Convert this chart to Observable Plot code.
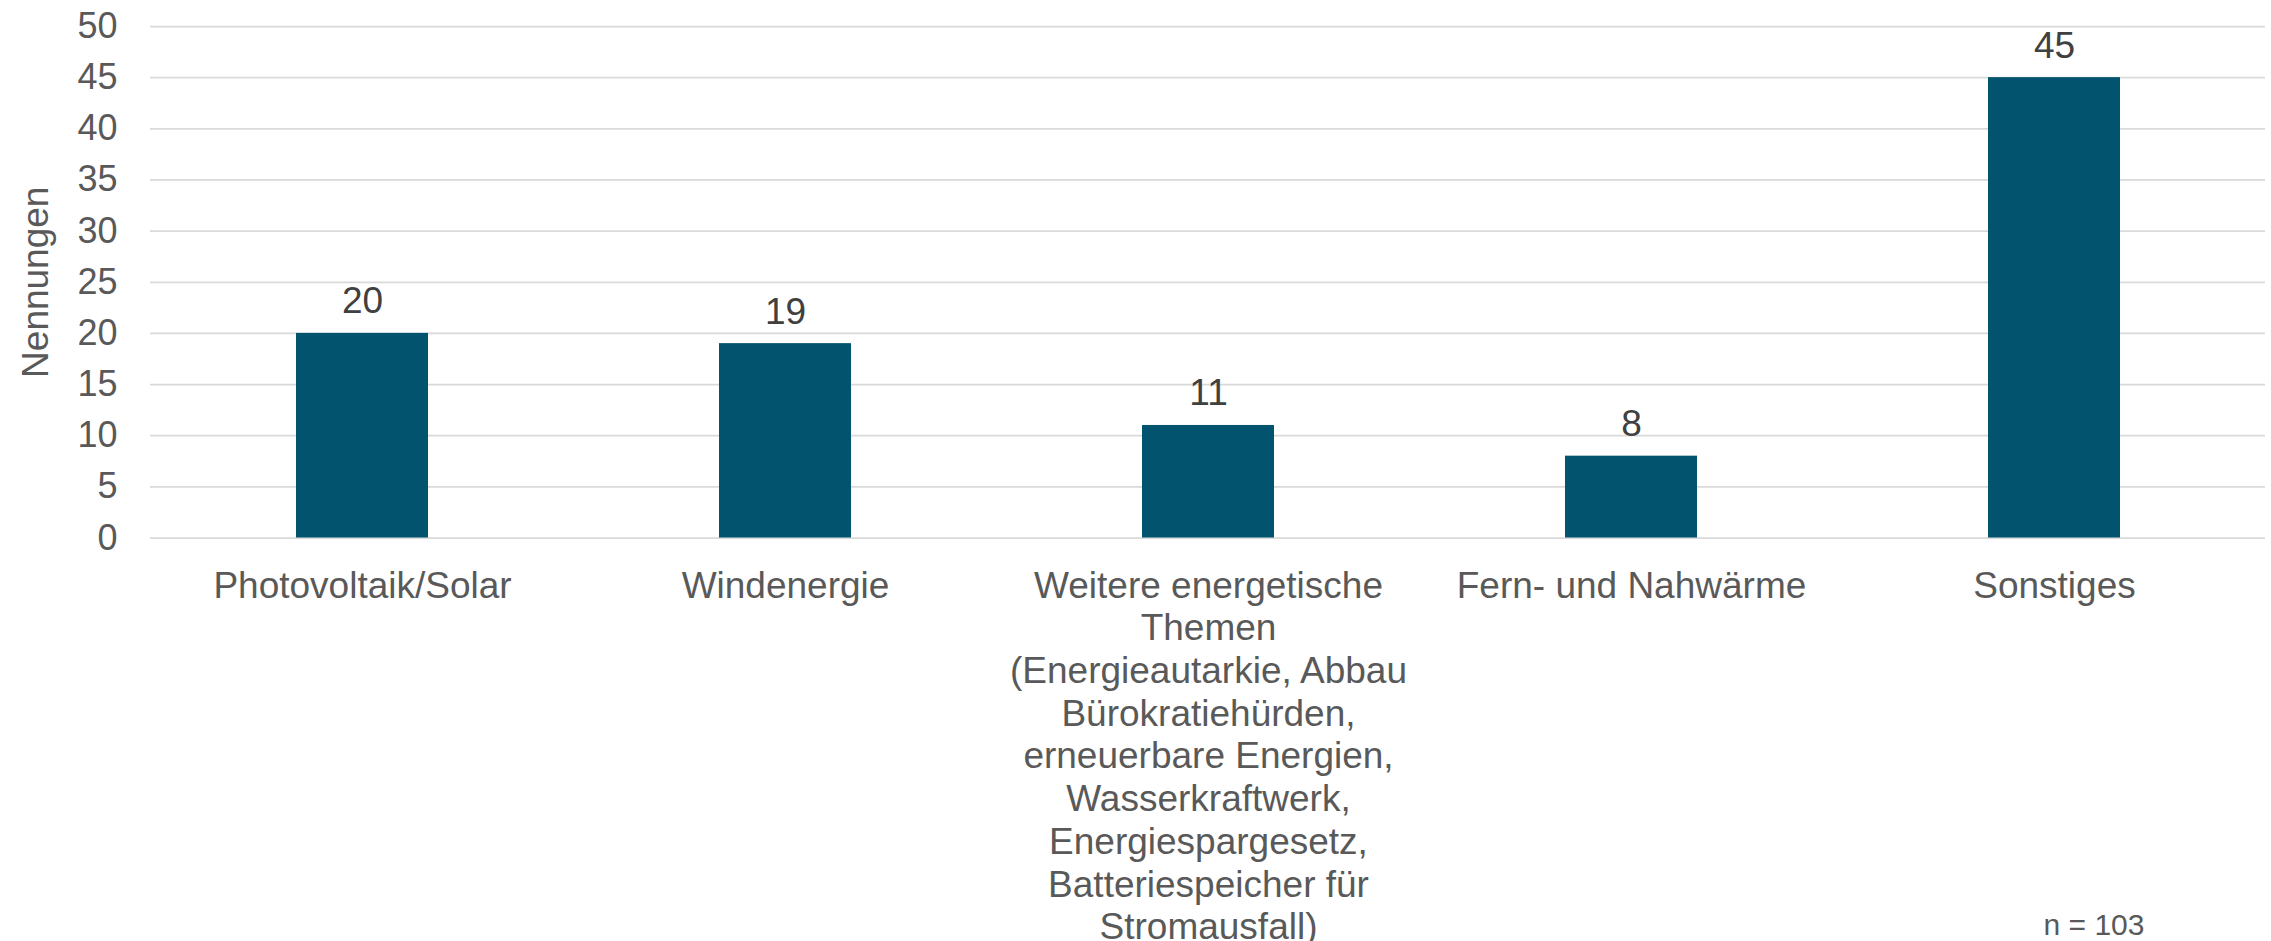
<!DOCTYPE html>
<html>
<head>
<meta charset="utf-8">
<script src="https://cdn.jsdelivr.net/npm/d3@7"></script>
<script src="https://cdn.jsdelivr.net/npm/@observablehq/plot@0.6"></script>
<style>
  html, body { margin: 0; padding: 0; background: #ffffff; }
  #chart svg { display: block; }
</style>
</head>
<body>
<div id="chart"></div>
<script>
const categories = [
  "Photovoltaik/Solar",
  "Windenergie",
  "Weitere energetische\nThemen\n(Energieautarkie, Abbau\nBürokratiehürden,\nerneuerbare Energien,\nWasserkraftwerk,\nEnergiespargesetz,\nBatteriespeicher für\nStromausfall)",
  "Fern- und Nahwärme",
  "Sonstiges"
];
const values = [20, 19, 11, 8, 45];
const yTicks = [0, 5, 10, 15, 20, 25, 30, 35, 40, 45, 50];
const yLabel = "Nennungen";
const note = "n = 103";

const data = categories.map((c, i) => ({cat: c, value: values[i]}));
const font = "Arial, 'Liberation Sans', sans-serif";

const chart = Plot.plot({
  width: 2271,
  height: 941,
  marginLeft: 150,
  marginRight: 6,
  marginTop: 26,
  marginBottom: 403.5,
  style: {fontFamily: font, background: "#ffffff", overflow: "visible"},
  x: {domain: categories, paddingInner: 0.688, paddingOuter: 0.344, axis: null},
  y: {domain: [0, 50], axis: null},
  marks: [
    Plot.ruleY(yTicks, {stroke: "#d9d9d9", strokeWidth: 1.75}),
    Plot.axisY(yTicks, {
      tickSize: 0, tickPadding: 33, fontSize: 36, fill: "#595959",
      label: null, tickFormat: d => String(d)
    }),
    Plot.barY(data, {x: "cat", y: "value", fill: "#02546e"}),
    Plot.text(data, {
      x: "cat", y: "value", text: d => String(d.value),
      dy: -20, lineAnchor: "bottom", fontSize: 37, fill: "#404040"
    }),
    Plot.text(data, {
      x: "cat", frameAnchor: "bottom", text: "cat",
      lineAnchor: "top", dy: 29.2, lineHeight: 1.155,
      fontSize: 37, fill: "#595959"
    }),
    Plot.text([yLabel], {
      frameAnchor: "left", text: d => d, rotate: -90, textAnchor: "middle",
      dx: -103, lineAnchor: "bottom", fontSize: 37, fill: "#595959"
    }),
    Plot.text([note], {
      frameAnchor: "bottom-right", text: d => d, textAnchor: "end",
      dx: -121, dy: 396.5, lineAnchor: "bottom", fontSize: 30, fill: "#595959"
    })
  ]
});
document.getElementById("chart").appendChild(chart);
</script>
</body>
</html>
